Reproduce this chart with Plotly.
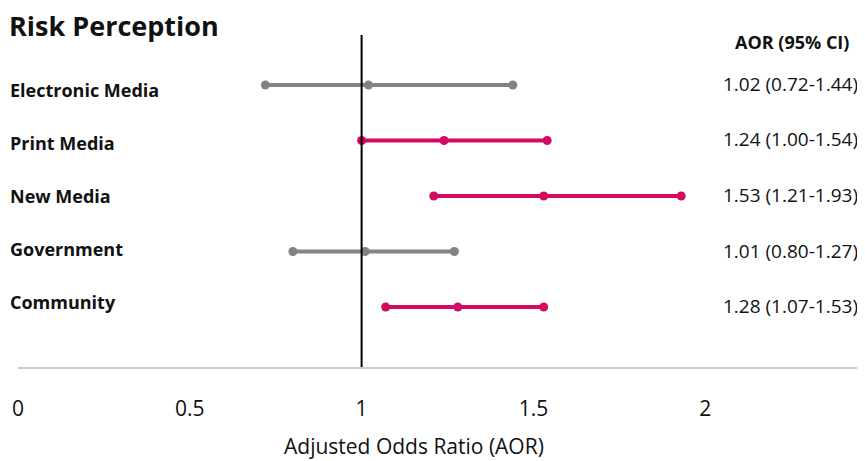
import plotly.graph_objects as go

categories = ["Electronic Media", "Print Media", "New Media", "Government", "Community"]
aor = [1.02, 1.24, 1.53, 1.01, 1.28]
ci_low = [0.72, 1.00, 1.21, 0.80, 1.07]
ci_high = [1.44, 1.54, 1.93, 1.27, 1.53]
significant = [False, True, True, False, True]
tick_vals = [0, 0.5, 1, 1.5, 2]
tick_text = ["0", "0.5", "1", "1.5", "2"]
x_title = "Adjusted Odds Ratio (AOR)"

GREY = "#838383"
PINK = "#D30A64"
FONT = "Open Sans"

OFF = 8  # page body margin
W, H = 857, 453
ML, MR, MT, MB = 10, 0, 27, 94
PW = W - ML - MR
PH = H - MT - MB


def py(pix):
    return (H - MB - (pix - OFF)) / PH


def px(pix):
    return (pix - OFF - ML) / PW


fig = go.Figure()
n = len(categories)
rows = [n - i for i in range(n)]

for i, cat in enumerate(categories):
    col = PINK if significant[i] else GREY
    fig.add_trace(go.Scatter(
        x=[ci_low[i], aor[i], ci_high[i]],
        y=[rows[i]] * 3,
        mode="lines+markers",
        line=dict(color=col, width=4),
        marker=dict(color=col, size=9),
        showlegend=False,
        hoverinfo="skip",
    ))
    fig.add_annotation(x=px(8), xref="paper", xanchor="left", y=rows[i], yref="y",
                       yshift=-5 + 2.5 * i,
                       text=f"<b>{cat}</b>", showarrow=False,
                       font=dict(family=FONT, size=18, color="#111"))
    fig.add_annotation(x=px(860), xref="paper", xanchor="right", y=rows[i], yref="y",
                       yshift=1,
                       text=f"{aor[i]:.2f} ({ci_low[i]:.2f}-{ci_high[i]:.2f})", showarrow=False,
                       font=dict(family=FONT, size=19, color="#111"))

fig.add_shape(type="line", x0=1, x1=1, xref="x", y0=0, y1=1, yref="paper",
              line=dict(color="black", width=2))

fig.add_annotation(x=px(7), xref="paper", xanchor="left", y=py(25), yref="paper", yanchor="middle",
                   text="<b>Risk Perception</b>", showarrow=False,
                   font=dict(family=FONT, size=27, color="#111"))
fig.add_annotation(x=px(792), xref="paper", xanchor="center", y=py(42), yref="paper",
                   yanchor="middle",
                   text="<b>AOR (95% CI)</b>", showarrow=False,
                   font=dict(family=FONT, size=18, color="#111"))
fig.add_annotation(x=px(414), xref="paper", xanchor="center", y=py(446), yref="paper",
                   yanchor="middle",
                   text=x_title, showarrow=False,
                   font=dict(family=FONT, size=21, color="#111"))

fig.update_layout(
    width=W, height=H,
    margin=dict(l=ML, r=MR, t=MT, b=MB),
    paper_bgcolor="white", plot_bgcolor="white",
    font=dict(family=FONT, color="#111"),
    xaxis=dict(range=[0, 2.465], tickvals=tick_vals, ticktext=tick_text,
               showgrid=False, zeroline=False, showline=True, linecolor="#cccccc",
               linewidth=2, ticks="", ticklabelstandoff=22,
               tickfont=dict(family=FONT, size=21, color="#111")),
    yaxis=dict(range=[-0.08, 5.9], showgrid=False, zeroline=False, showline=False,
               showticklabels=False, ticks=""),
)

fig.write_html("out.html")
